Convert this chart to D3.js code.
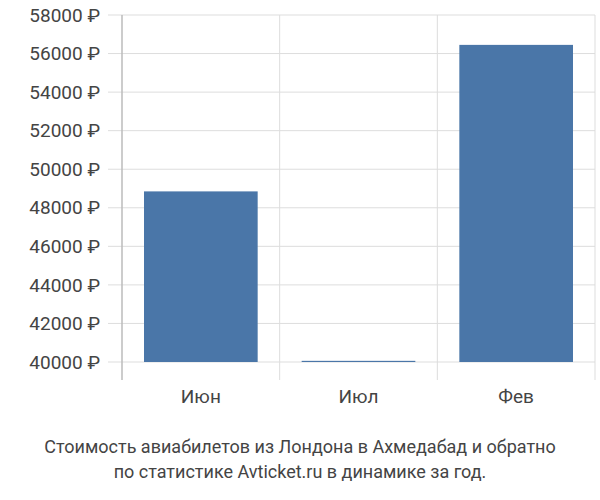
<!DOCTYPE html>
<html><head><meta charset="utf-8">
<script src="https://cdn.jsdelivr.net/npm/d3@7"></script>
<style>body{margin:0;background:#fff}</style></head>
<body><svg width="600" height="500"></svg>
<script>
const categories = ["Июн", "Июл", "Фев"];
const values = [48850, 40060, 56450];
const tickValues = [40000,42000,44000,46000,48000,50000,52000,54000,56000,58000];
const titleLines = ["Стоимость авиабилетов из Лондона в Ахмедабад и обратно", "по статистике Avticket.ru в динамике за год."];

const svg = d3.select("svg");
const L=122, R=595, T=15, B=362;
const x = d3.scaleBand().domain(categories).range([L,R]);
const y = d3.scaleLinear().domain([40000,58000]).range([B,T]);
const font = "Roboto, 'Liberation Sans', sans-serif";

// horizontal grid
svg.selectAll(".hg").data(tickValues).join("line")
  .attr("x1",108).attr("x2",R).attr("y1",d=>y(d)).attr("y2",d=>y(d))
  .attr("stroke","#ddd").attr("stroke-width",1);
// vertical grid / ticks
const vx = [L, ...categories.map(c=>x(c)+x.bandwidth())];
svg.selectAll(".vg").data(vx).join("line")
  .attr("x1",d=>d).attr("x2",d=>d).attr("y1",T).attr("y2",380)
  .attr("stroke","#ddd");
svg.append("line").attr("x1",L).attr("x2",L).attr("y1",T).attr("y2",380).attr("stroke","#aaa");

// bars
const pad = 22;
svg.selectAll(".bar").data(values).join("rect")
  .attr("x",(d,i)=>x(categories[i])+pad)
  .attr("width",x.bandwidth()-2*pad)
  .attr("y",d=>y(d)).attr("height",d=>Math.max(1,B-y(d)))
  .attr("fill","#4a76a8");

// y labels
svg.selectAll(".yl").data(tickValues).join("text")
  .attr("x",100).attr("y",d=>y(d)).attr("dy","0.35em")
  .attr("text-anchor","end").attr("font-family",font).attr("font-size",19).attr("fill","#444")
  .text(d=>d+" ₽");
// x labels
svg.selectAll(".xl").data(categories).join("text")
  .attr("x",d=>x(d)+x.bandwidth()/2).attr("y",403)
  .attr("text-anchor","middle").attr("font-family",font).attr("font-size",19).attr("fill","#444")
  .text(d=>d);
// title
svg.selectAll(".tt").data(titleLines).join("text")
  .attr("x",300).attr("y",(d,i)=>453+i*25)
  .attr("text-anchor","middle").attr("font-family",font).attr("font-size",18).attr("fill","#444")
  .text(d=>d);
</script></body></html>
